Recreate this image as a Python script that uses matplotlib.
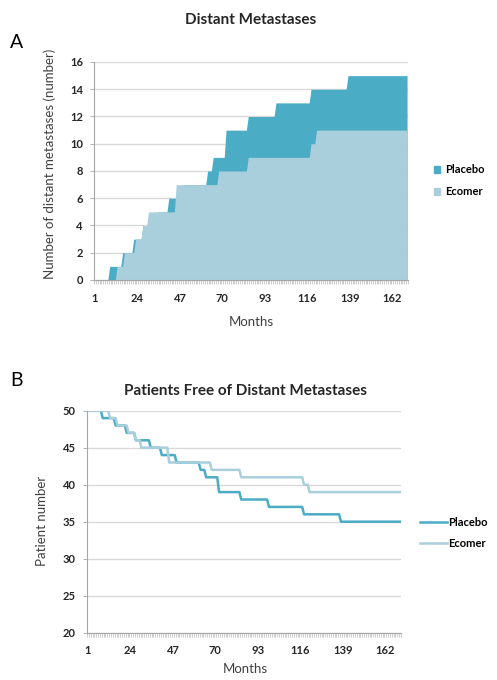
import numpy as np
import matplotlib.pyplot as plt
from matplotlib.patches import Patch
from matplotlib.lines import Line2D

plt.rcParams['font.family'] = ['Lato', 'DejaVu Sans']

# follow-up months (one category per month)
months = np.arange(1, 171)
tick_months = [1, 24, 47, 70, 93, 116, 139, 162]

# month in which each distant metastasis was recorded
placebo_events = [9, 16, 22, 27, 35, 41, 49, 62, 65, 72, 72, 84, 99, 118, 138]
ecomer_events = [13, 17, 23, 27, 30, 45, 45, 68, 84, 118, 121]
n_patients = 50

placebo_cum = np.searchsorted(np.sort(placebo_events), months, side='right')
ecomer_cum = np.searchsorted(np.sort(ecomer_events), months, side='right')
placebo_free = n_patients - placebo_cum
ecomer_free = n_patients - ecomer_cum

c_placebo = '#4bacc6'
c_ecomer = '#a9cfdc'
c_grid = '#d9d9d9'
c_axis = '#a6a6a6'


def style_axes(ax):
    ax.set_xlim(0.5, months[-1] + 0.5)
    ax.set_xticks(tick_months)
    ax.set_xticks(np.arange(0.5, months[-1] + 1), minor=True)
    ax.tick_params(axis='x', which='major', length=0, pad=9,
                   labelsize=8, labelcolor='#262626')
    ax.tick_params(axis='x', which='minor', length=3, width=0.4, color=c_axis)
    ax.tick_params(axis='y', length=3, width=0.6, color=c_axis,
                   labelsize=8, labelcolor='#262626', pad=5)
    for lab in ax.get_xticklabels() + ax.get_yticklabels():
        lab.set_fontweight('bold')
    ax.yaxis.grid(True, color=c_grid, linewidth=1)
    ax.set_axisbelow(True)
    for s in ['top', 'right']:
        ax.spines[s].set_visible(False)
    for s in ['left', 'bottom']:
        ax.spines[s].set_color(c_axis)
        ax.spines[s].set_linewidth(0.8)


fig = plt.figure(figsize=(4.97, 6.8), dpi=100)

# A: cumulative number of distant metastases
ax1 = fig.add_axes([94 / 497, 1 - 280 / 680, 314 / 497, 218 / 680])
ax1.fill_between(months, placebo_cum, color=c_placebo, linewidth=0)
ax1.fill_between(months, ecomer_cum, color=c_ecomer, linewidth=0)
ax1.set_ylim(0, 16)
ax1.set_yticks(range(0, 17, 2))
style_axes(ax1)
ax1.legend(handles=[Patch(color=c_placebo, label='Placebo'),
                    Patch(color=c_ecomer, label='Ecomer')],
           loc='center left', bbox_to_anchor=(1.05, 0.455), frameon=False,
           handlelength=0.6, handleheight=0.6, handletextpad=0.4,
           labelspacing=1.0, prop={'weight': 'bold', 'size': 8})

# B: patients free of distant metastases
ax2 = fig.add_axes([87 / 497, 1 - 632.7 / 680, 314 / 497, 222 / 680])
ax2.plot(months, placebo_free, color=c_placebo, linewidth=1.8)
ax2.plot(months, ecomer_free, color=c_ecomer, linewidth=1.8)
ax2.set_ylim(20, 50)
ax2.set_yticks(range(20, 51, 5))
style_axes(ax2)
ax2.legend(handles=[Line2D([], [], color=c_placebo, lw=1.8, label='Placebo'),
                    Line2D([], [], color=c_ecomer, lw=1.8, label='Ecomer')],
           loc='center left', bbox_to_anchor=(1.03, 0.45), frameon=False,
           handlelength=2.4, handletextpad=0.1, labelspacing=0.9,
           prop={'weight': 'bold', 'size': 8})

# titles and labels
fig.text(251 / 497, 1 - 20 / 680, 'Distant Metastases', ha='center',
         va='center', fontsize=11, fontweight='bold', color='#262626')
fig.text(245 / 497, 1 - 391 / 680, 'Patients Free of Distant Metastases',
         ha='center', va='center', fontsize=11, fontweight='bold',
         color='#262626')
fig.text(17 / 497, 1 - 42 / 680, 'A', ha='center', va='center', fontsize=14)
fig.text(17 / 497, 1 - 381 / 680, 'B', ha='center', va='center', fontsize=14)
fig.text(50 / 497, 1 - 164 / 680, 'Number of distant metastases (number)',
         rotation=90, ha='center', va='center', fontsize=9.5, color='#404040')
fig.text(42 / 497, 1 - 521 / 680, 'Patient number', rotation=90,
         ha='center', va='center', fontsize=9.5, color='#404040')
fig.text(251 / 497, 1 - 322 / 680, 'Months', ha='center', va='center',
         fontsize=9.5, color='#404040')
fig.text(245 / 497, 1 - 669 / 680, 'Months', ha='center', va='center',
         fontsize=9.5, color='#404040')

fig.savefig('out.png', dpi=100)
